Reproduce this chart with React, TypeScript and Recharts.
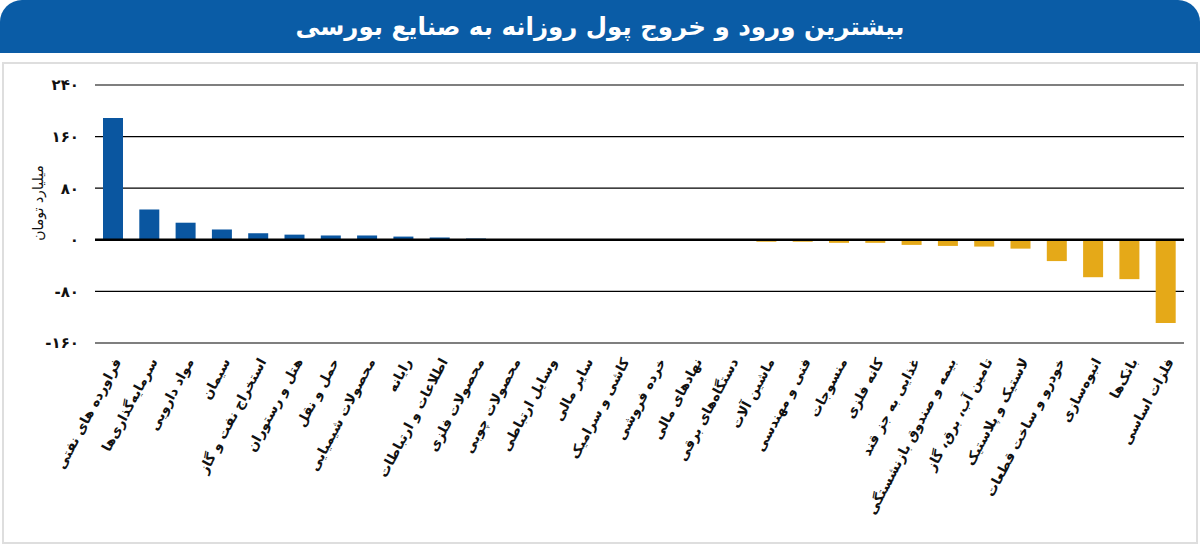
import React from "react";
import { BarChart, Bar, XAxis, YAxis, CartesianGrid, ReferenceLine, Cell } from "recharts";

const title = "بیشترین ورود و خروج پول روزانه به صنایع بورسی";
const unitLabel = "میلیارد تومان";

const industries = [
  "فراورده های نفتی",
  "سرمایه‌گذاری‌ها",
  "مواد دارویی",
  "سیمان",
  "استخراج نفت و گاز",
  "هتل و رستوران",
  "حمل و نقل",
  "محصولات شیمیایی",
  "رایانه",
  "اطلاعات و ارتباطات",
  "محصولات فلزی",
  "محصولات چوبی",
  "وسایل ارتباطی",
  "سایر مالی",
  "کاشی و سرامیک",
  "خرده فروشی",
  "نهادهای مالی",
  "دستگاه‌های برقی",
  "ماشین آلات",
  "فنی و مهندسی",
  "منسوجات",
  "کانه فلزی",
  "غذایی به جز قند",
  "بیمه و صندوق بازنشستگی",
  "تامین آب، برق، گاز",
  "لاستیک و پلاستیک",
  "خودرو و ساخت قطعات",
  "انبوه‌سازی",
  "بانک‌ها",
  "فلزات اساسی",
];

const netFlow = [
  189, 47, 26.5, 16, 10, 8, 6.7, 6.7, 5, 3.6, 2,
  0, 0, 0, 0,
  -1.5, -1.5, -1.5, -3, -3, -4.7, -4.7, -7.9, -9.5, -10.5, -13.7, -33, -58, -61, -129,
];

const yTicks = [-160, -80, 0, 80, 160, 240];

const data = industries.map((name, i) => ({ name, value: netFlow[i] }));

const FONT = "'DejaVu Sans', sans-serif";

const toFa = (n: number) =>
  String(n).replace(/[0-9]/g, (d) => "۰۱۲۳۴۵۶۷۸۹"[Number(d)]);

const XTick = (props: any) => {
  const { x, y, payload } = props;
  return (
    <g transform={`translate(${x + 4},${y + 8})`}>
      <text
        transform="rotate(-62)"
        textAnchor="end"
        dy={5}
        fontFamily={FONT}
        fontWeight="bold"
        fontSize={13.5}
        fill="#111"
      >
        {payload.value}
      </text>
    </g>
  );
};

export default function App() {
  return (
    <div style={{ position: "absolute", left: 0, top: 0, width: 1200, height: 546, background: "#fff" }}>
      <div
        style={{
          position: "absolute",
          left: 0,
          top: 0,
          width: 1200,
          height: 53,
          background: "#0a5ca6",
          borderRadius: "22px 22px 0 0",
          color: "#fff",
          fontFamily: FONT,
          fontWeight: "bold",
          fontSize: 24.5,
          lineHeight: "53px",
          textAlign: "center",
          direction: "rtl",
        }}
      >
        {title}
      </div>
      <div
        style={{
          position: "absolute",
          left: 2,
          top: 62,
          width: 1192,
          height: 478,
          border: "2px solid #dedede",
        }}
      />
      <div
        style={{
          position: "absolute",
          left: 38,
          top: 203,
          transform: "translate(-50%, -50%) rotate(-90deg)",
          fontFamily: FONT,
          fontSize: 14,
          color: "#111",
          whiteSpace: "nowrap",
          direction: "rtl",
        }}
      >
        {unitLabel}
      </div>
      <div style={{ position: "absolute", left: 0, top: 0 }}>
        <BarChart
          width={1200}
          height={546}
          data={data}
          margin={{ top: 85, right: 16, bottom: 0, left: 0 }}
          barCategoryGap={0}
        >
          <CartesianGrid vertical={false} stroke="#000" strokeWidth={1.2} />
          <XAxis
            dataKey="name"
            interval={0}
            axisLine={false}
            tickLine={false}
            height={203}
            tick={<XTick />}
          />
          <YAxis
            width={95}
            domain={[-160, 240]}
            ticks={yTicks}
            axisLine={false}
            tickLine={false}
            tickMargin={10}
            tickFormatter={toFa}
            tick={{ fontFamily: FONT, fontWeight: "bold", fontSize: 15, fill: "#111" }}
          />
          <ReferenceLine y={0} stroke="#000" strokeWidth={2.5} />
          <Bar dataKey="value" barSize={20} isAnimationActive={false}>
            {data.map((d, i) => (
              <Cell key={i} fill={d.value >= 0 ? "#0a56a0" : "#e5a918"} />
            ))}
          </Bar>
        </BarChart>
      </div>
    </div>
  );
}
